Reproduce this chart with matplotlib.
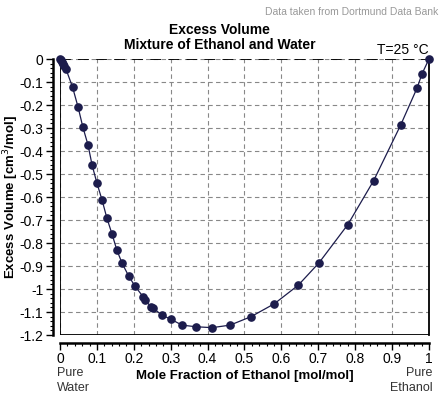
import matplotlib
matplotlib.use('Agg')
import matplotlib.pyplot as plt
from matplotlib.ticker import MultipleLocator, FuncFormatter

plt.rcParams['font.family'] = ['Liberation Sans', 'DejaVu Sans']

# mole fraction of ethanol and excess volume
x_ethanol = [0.0, 0.003, 0.006, 0.009, 0.012, 0.016,
             0.034, 0.049, 0.062, 0.076, 0.087, 0.100, 0.114, 0.127,
             0.141, 0.154, 0.168, 0.186, 0.203, 0.225, 0.231, 0.246,
             0.253, 0.276, 0.301, 0.331, 0.368, 0.412, 0.461, 0.518,
             0.581, 0.646, 0.702, 0.780, 0.850, 0.923, 0.968, 0.981, 1.0]
v_excess = [0.0, -0.006, -0.013, -0.020, -0.030, -0.043,
            -0.122, -0.209, -0.296, -0.374, -0.461, -0.539, -0.613, -0.691,
            -0.761, -0.830, -0.887, -0.943, -0.987, -1.033, -1.048, -1.077,
            -1.084, -1.113, -1.132, -1.157, -1.164, -1.168, -1.157, -1.120,
            -1.064, -0.983, -0.886, -0.720, -0.529, -0.288, -0.125, -0.065, 0.0]

navy = '#1c1c4c'

fig = plt.figure(figsize=(4.45, 3.96), dpi=100)
ax = fig.add_axes([0.1348, 0.154, 0.8292, 0.697])

ax.plot(x_ethanol, v_excess, color=navy, lw=0.9, marker='o', ms=5.2,
        mfc=navy, mec=navy, zorder=5, clip_on=False)

ax.set_xlim(0, 1)
ax.set_ylim(-1.2, 0)

# grid
ax.xaxis.set_major_locator(MultipleLocator(0.1))
ax.yaxis.set_major_locator(MultipleLocator(0.1))
ax.xaxis.set_minor_locator(MultipleLocator(0.02))
ax.yaxis.set_minor_locator(MultipleLocator(0.02))
ax.grid(True, which='major', color='#888888', lw=0.8, ls=(0, (4, 3)))
ax.set_axisbelow(True)

# frame round the plot area
ax.spines['top'].set_visible(False)
ax.spines['right'].set_linewidth(1.3)
ax.axvline(0, color='black', lw=1.3, zorder=3)
ax.axhline(-1.2, color='black', lw=1.3, zorder=3)
ax.axhline(0, color='black', lw=1.3, ls=(0, (6, 4)), zorder=3)

# detached axes
ax.spines['left'].set_position(('outward', 5))
ax.spines['bottom'].set_position(('outward', 6))
ax.spines['left'].set_linewidth(1.8)
ax.spines['bottom'].set_linewidth(1.8)

def fmt(v, pos):
    s = '%.1f' % v
    if s == '-0.0' or s == '0.0':
        return '0'
    if s.endswith('.0'):
        s = s[:-2]
    return s

ax.xaxis.set_major_formatter(FuncFormatter(fmt))
ax.yaxis.set_major_formatter(FuncFormatter(fmt))
ax.tick_params(which='major', length=5, width=1, labelsize=10, pad=2)
ax.tick_params(which='minor', length=2.5, width=0.8)
ax.tick_params(axis='x', pad=1)

ax.set_xlabel('Mole Fraction of Ethanol [mol/mol]', fontsize=9.5,
              fontweight='bold')
ax.xaxis.set_label_coords(0.5, -0.125)
ax.set_ylabel('Excess Volume [cm$^3$/mol]', fontsize=9.5,
              fontweight='bold')
ax.yaxis.set_label_coords(-0.107, 0.5)

fig.text(0.494, 0.924, 'Excess Volume', ha='center', va='center',
         fontsize=10, fontweight='bold')
fig.text(0.494, 0.887, 'Mixture of Ethanol and Water', ha='center',
         va='center', fontsize=10, fontweight='bold')
fig.text(0.964, 0.873, 'T=25 °C', ha='right', va='center', fontsize=10)
fig.text(0.985, 0.97, 'Data taken from Dortmund Data Bank', ha='right',
         va='center', fontsize=7.5, color='#999999')

fig.text(0.128, 0.04, 'Pure\nWater', ha='left', va='center',
         fontsize=9, color='#333333', linespacing=1.3)
fig.text(0.972, 0.04, 'Pure\nEthanol', ha='right', va='center',
         fontsize=9, color='#333333', linespacing=1.3, multialignment='right')

fig.savefig('out.png', dpi=100)
